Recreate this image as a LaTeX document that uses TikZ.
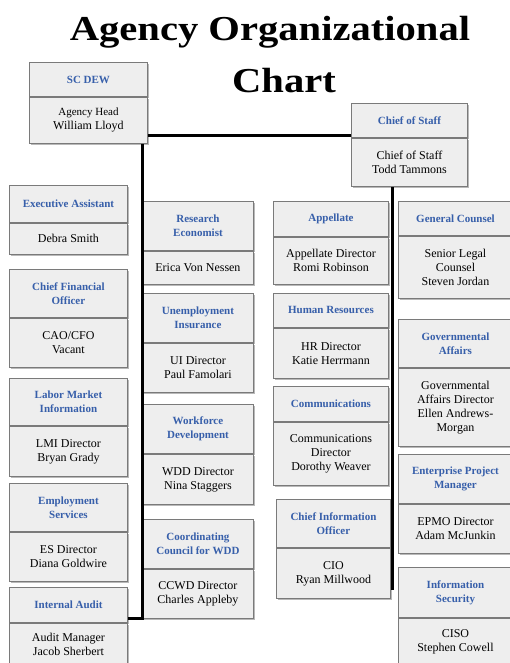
\documentclass[tikz,border=0pt]{standalone}
\usepackage{fontspec}
\setmainfont{Liberation Serif}
\newfontfamily\titlefont[FakeStretch=1.16]{Liberation Serif}
\usetikzlibrary{calc,shadows}

\definecolor{boxfill}{HTML}{EEEEEE}
\definecolor{boxline}{HTML}{7A7A7A}
\definecolor{hdblue}{RGB}{55,95,170}

\tikzset{
  unitbox/.style={draw=boxline, line width=0.9pt, fill=boxfill, inner sep=0pt,
    anchor=north west, align=center,
    drop shadow={shadow xshift=1.2pt, shadow yshift=-1.2pt, fill=black!50, opacity=0.55}},
  hd/.style={unitbox, text=hdblue, font=\bfseries\fontsize{11}{14}\selectfont},
  bd/.style={unitbox, text=black, font=\fontsize{12}{14}\selectfont},
  conn/.style={line width=3pt, black},
  titletext/.style={anchor=base, font=\titlefont\bfseries\fontsize{35}{40}\selectfont}
}

% \orgunit{name}{x}{top}{width}{header height}{body height}{header}{body}
\newcommand\orgunit[8]{%
  \node[hd, minimum width=#4pt, minimum height=#5pt] (#1-h) at (#2,#3) {#7};
  \node[bd, minimum width=#4pt, minimum height=#6pt] (#1) at (#1-h.south west) {#8};
}

\begin{document}
\begin{tikzpicture}[x=1pt, y=-1pt]
\useasboundingbox[fill=white] (0,0) rectangle (510,663);

% title
\node[titletext] (t1) at (270,41) {Agency Organizational};
\node[titletext] (t2) at (284,93) {Chart};

% top level
\orgunit{sc}{29}{62}{118}{34}{46}{SC DEW}{\fontsize{11}{13}\selectfont Agency Head\\William Lloyd}
\orgunit{cs}{351}{103}{116}{34}{48}{Chief of Staff}{Chief of Staff\\Todd Tammons}

% connectors (drawn before the units they run along)
\coordinate (topj) at ($(sc.south east)+(0,-8)$);
\draw[conn] (topj) -- (topj -| cs.west);
\coordinate (lt) at ($(sc.south east)+(-5,0)$);
\coordinate (rt) at ($(cs.south)+(-17,0)$);

% first column
\orgunit{ea}{9}{185}{118}{37}{31}{Executive Assistant}{Debra Smith}
\orgunit{cfo}{9}{269}{118}{48}{49}{Chief Financial\\Officer}{CAO/CFO\\Vacant}
\orgunit{lmi}{9}{378}{118}{47}{50}{Labor Market\\Information}{LMI Director\\Bryan Grady}
\orgunit{es}{9}{483}{118}{48}{49}{Employment\\Services}{ES Director\\Diana Goldwire}
\orgunit{ia}{9}{587}{118}{35}{42}{Internal Audit}{Audit Manager\\Jacob Sherbert}

% second column
\orgunit{re}{142}{201}{111}{49}{33}{Research\\Economist}{Erica Von Nessen}
\orgunit{ui}{142}{293}{111}{49}{49}{Unemployment\\Insurance}{UI Director\\Paul Famolari}
\orgunit{wd}{142}{404}{111}{49}{50}{Workforce\\Development}{WDD Director\\Nina Staggers}
\orgunit{cc}{142}{519}{111}{49}{49}{Coordinating\\Council for WDD}{CCWD Director\\Charles Appleby}

% third column
\orgunit{ap}{273}{201}{115}{35}{47}{Appellate}{Appellate Director\\Romi Robinson}
\orgunit{hr}{273}{293}{115}{34}{50}{Human Resources}{HR Director\\Katie Herrmann}
\orgunit{co}{273}{386}{115}{35}{63}{Communications}{Communications\\Director\\Dorothy Weaver}
\orgunit{cio}{276}{499}{114}{48}{50}{Chief Information\\Officer}{CIO\\Ryan Millwood}

% fourth column (runs to the right edge)
\orgunit{gc}{398}{201}{114}{34}{62}{General Counsel}{Senior Legal\\Counsel\\Steven Jordan}
\orgunit{ga}{398}{319}{114}{48}{78}{Governmental\\Affairs}{Governmental\\Affairs Director\\Ellen Andrews-\\Morgan}
\orgunit{ep}{398}{454}{114}{49}{49}{Enterprise Project\\Manager}{EPMO Director\\Adam McJunkin}
\orgunit{is}{398}{567}{114}{50}{47}{Information\\Security}{CISO\\Stephen Cowell}

% reporting lines
\draw[conn] (lt) -- (lt |- cc.south) -- (ia-h.east |- cc.south);
\draw[conn] (rt) -- ($(rt |- cio.south)+(0,-9)$);
\end{tikzpicture}
\end{document}
